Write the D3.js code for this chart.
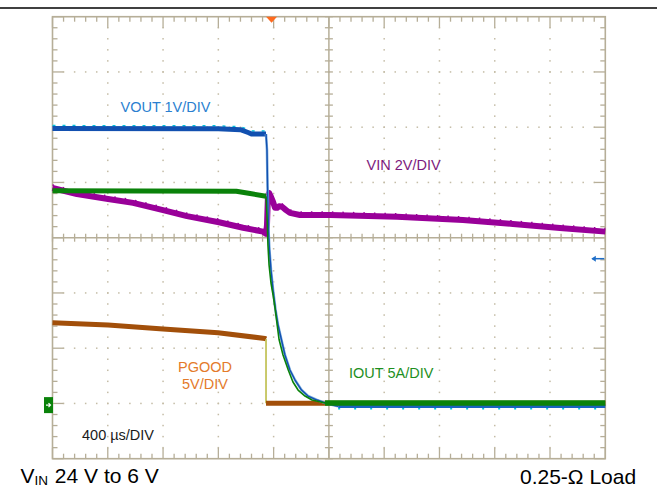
<!DOCTYPE html>
<html><head><meta charset="utf-8">
<script src="https://cdn.jsdelivr.net/npm/d3@7"></script>
<style>
html,body{margin:0;padding:0;background:#fff;}
svg{display:block;font-family:"Liberation Sans",Arial,Helvetica,sans-serif;}
</style>
</head><body>
<svg id="chart" width="657" height="487"></svg>
<script>
// ---------- DATA (time in ms, 400 µs/div; amplitude in screen divisions) ----------
const timeTicks = [0, 0.4, 0.8, 1.2, 1.6, 2.0, 2.4, 2.8, 3.2, 3.6, 4.0];
const divTicks  = [0, 1, 2, 3, 4, 5, 6, 7, 8];

// VIN (2 V/div)
const vinPts = [[0,4.90],[0.177,4.79],[0.402,4.70],[0.583,4.63],[0.800,4.50],[0.973,4.39],
  [1.205,4.28],[1.379,4.18],[1.523,4.11],[1.545,4.07],[1.552,4.23],[1.559,4.76],[1.567,4.81],
  [1.581,4.74],[1.596,4.65],[1.610,4.54],[1.625,4.54],[1.639,4.57],[1.661,4.56],[1.690,4.50],
  [1.718,4.45],[1.791,4.41],[2.008,4.41],[2.493,4.38],[2.970,4.32],[3.332,4.25],[3.694,4.17],[4.0,4.11]];

// VOUT (1 V/div)
const voutHigh = [[0,5.975],[1.20,5.97],[1.36,5.955],[1.42,5.90],[1.44,5.877],[1.545,5.877]];
const voutFall = [[1.545,5.877],[1.552,5.587],[1.556,4.936],[1.563,4.139],[1.570,3.777],[1.581,3.416],
  [1.596,3.054],[1.614,2.692],[1.632,2.420],[1.657,2.149],[1.682,1.877],[1.718,1.605],[1.755,1.424],
  [1.802,1.243],[1.849,1.134],[1.914,1.062],[1.994,0.990],[2.067,0.950]];
const voutLow  = [[2.067,0.950],[4.0,0.950]];

// IOUT (5 A/div)
const ioutHigh = [[0,4.85],[1.33,4.84],[1.43,4.80],[1.545,4.75]];
const ioutFall = [[1.545,4.75],[1.552,4.41],[1.559,3.868],[1.567,3.506],[1.581,3.180],[1.596,2.963],
  [1.610,2.728],[1.639,2.162],[1.668,1.877],[1.706,1.605],[1.740,1.388],[1.777,1.243],[1.827,1.134],
  [1.878,1.062],[1.972,1.008]];
const ioutLow  = [[1.972,1.008],[4.0,1.008]];

// PGOOD (5 V/div)
const pgoodHigh = [[0,2.462],[0.402,2.420],[0.800,2.348],[1.198,2.281],[1.538,2.176],[1.545,2.167]];
const pgoodEdge = [[1.545,2.167],[1.545,1.003]];
const pgoodLow  = [[1.545,1.003],[4.0,1.003]];

// markers
const triggerTime = 1.585;
const groundLevel = 0.97;
const refArrowLevel = 3.62;

// labels
const labels = [
  {text:"VOUT 1V/DIV", x:120.5, y:111.5, color:"#2b7fd0"},
  {text:"VIN 2V/DIV",  x:366.5, y:170,   color:"#7d1a7d"},
  {text:"IOUT 5A/DIV", x:349,   y:377.5, color:"#1e8f1e"},
  {text:"400 µs/DIV",  x:82,    y:440,   color:"#1a1a1a"}
];

// ---------- DRAW ----------
const svg = d3.select("#chart");
const x = d3.scaleLinear().domain([0, 4]).range([52.5, 605.3]);
const y = d3.scaleLinear().domain([0, 8]).range([458.7, 16.7]);
const gridCol = "#b6ae98", dotCol = "#c4bca6";

// top rule
svg.append("line").attr("x1",0).attr("x2",657).attr("y1",8).attr("y2",8)
  .attr("stroke","#000").attr("stroke-width",1.5);

const g = svg.append("g");
// dotted grid
const minorX = [], minorY = [];
for (let i = 0; i < timeTicks.length - 1; i++)
  for (let k = 1; k < 5; k++) minorX.push(timeTicks[i] + (timeTicks[i+1]-timeTicks[i])*k/5);
for (let i = 0; i < divTicks.length - 1; i++)
  for (let k = 1; k < 5; k++) minorY.push(divTicks[i] + (divTicks[i+1]-divTicks[i])*k/5);
const allX = timeTicks.concat(minorX), allY = divTicks.concat(minorY);

const innerX = timeTicks.slice(1, -1).filter(t => t !== 2.0);
const innerY = divTicks.slice(1, -1).filter(d => d !== 4);
const dots = [];
innerX.forEach(t => allY.forEach(d => { if (d > 0 && d < 8) dots.push([t, d]); }));
innerY.forEach(d => allX.forEach(t => { if (t > 0 && t < 4) dots.push([t, d]); }));
g.selectAll("rect.dot").data(dots).join("rect").attr("class","dot")
  .attr("x", d => x(d[0]) - 0.75).attr("y", d => y(d[1]) - 0.75)
  .attr("width", 1.5).attr("height", 1.5).attr("fill", dotCol);

// center cross
g.append("line").attr("x1", x(2)).attr("x2", x(2)).attr("y1", y(8)).attr("y2", y(0))
  .attr("stroke", gridCol).attr("stroke-width", 1.5);
g.append("line").attr("x1", x(0)).attr("x2", x(4)).attr("y1", y(4)).attr("y2", y(4))
  .attr("stroke", gridCol).attr("stroke-width", 1.5);
minorX.concat(timeTicks).forEach(t => {
  g.append("line").attr("x1", x(t)).attr("x2", x(t)).attr("y1", y(4)-4).attr("y2", y(4)+4)
    .attr("stroke", gridCol).attr("stroke-width", 1.3);
});
minorY.concat(divTicks).forEach(d => {
  g.append("line").attr("x1", x(2)-4).attr("x2", x(2)+4).attr("y1", y(d)).attr("y2", y(d))
    .attr("stroke", gridCol).attr("stroke-width", 1.3);
});
// border ticks
allX.forEach(t => {
  const L = timeTicks.includes(t) ? 11 : 5;
  g.append("line").attr("x1", x(t)).attr("x2", x(t)).attr("y1", y(8)).attr("y2", y(8)+L)
    .attr("stroke", gridCol).attr("stroke-width", 1.3);
  g.append("line").attr("x1", x(t)).attr("x2", x(t)).attr("y1", y(0)).attr("y2", y(0)-L)
    .attr("stroke", gridCol).attr("stroke-width", 1.3);
});
allY.forEach(d => {
  const L = divTicks.includes(d) ? 11 : 5;
  g.append("line").attr("x1", x(0)).attr("x2", x(0)+L).attr("y1", y(d)).attr("y2", y(d))
    .attr("stroke", gridCol).attr("stroke-width", 1.3);
  g.append("line").attr("x1", x(4)).attr("x2", x(4)-L).attr("y1", y(d)).attr("y2", y(d))
    .attr("stroke", gridCol).attr("stroke-width", 1.3);
});
// frame
g.append("rect").attr("x", x(0)).attr("y", y(8)).attr("width", x(4)-x(0)).attr("height", y(0)-y(8))
  .attr("fill","none").attr("stroke", gridCol).attr("stroke-width", 1.6);

// traces
const line = d3.line().x(d => x(d[0])).y(d => y(d[1]));
const tr = svg.append("g").attr("fill","none").attr("stroke-linejoin","round");
function path(data, color, w, extra) {
  const p = tr.append("path").datum(data).attr("d", line).attr("stroke", color).attr("stroke-width", w);
  if (extra) extra(p);
  return p;
}
// VIN
path(vinPts, "#990099", 6);
path(vinPts, "#990099", 1.5, p => p.attr("transform","translate(0,-3)").attr("stroke-dasharray","1.5,9"));
// PGOOD
path(pgoodHigh, "#a24f0a", 5);
path(pgoodEdge, "#b9b93c", 1.5);
path(pgoodLow, "#a24f0a", 5);
// VOUT
path(voutHigh, "#00c4dc", 1.5, p => p.attr("transform","translate(0,-3)").attr("stroke-dasharray","3,7"));
path(voutHigh, "#1250b0", 5);
path(voutFall, "#7fb0e0", 2.6);
path(voutFall, "#1250b0", 1.4);
path(voutLow, "#00c4dc", 1.5, p => p.attr("transform","translate(0,2.5)").attr("stroke-dasharray","2,14"));
path(voutLow, "#1a62c0", 3.5);
// IOUT
path(ioutHigh, "#0a820a", 5);
path(ioutFall, "#0a820a", 1.6);
path(ioutLow, "#0a820a", 5.5);

// markers
const tx = x(triggerTime), ty = y(8);
svg.append("path").attr("d", `M${tx-5.5},${ty} L${tx+5.5},${ty} L${tx},${ty+6} Z`).attr("fill","#ff6a1e");
const gy = y(groundLevel);
svg.append("rect").attr("x", x(0)-8.5).attr("y", gy-8).attr("width", 9).attr("height", 16).attr("fill","#0a820a");
svg.append("path").attr("d", `M${x(0)-6.5},${gy} H${x(0)-2} M${x(0)-4},${gy-2} L${x(0)-2},${gy} L${x(0)-4},${gy+2}`)
  .attr("stroke","#fff").attr("stroke-width",1.2).attr("fill","none");
const ay = y(refArrowLevel);
svg.append("path").attr("d", `M${x(4)-13},${ay} H${x(4)-1}`).attr("stroke","#1e6ec8").attr("stroke-width",1.5);
svg.append("path").attr("d", `M${x(4)-14},${ay} L${x(4)-9.5},${ay-3} L${x(4)-9.5},${ay+3} Z`).attr("fill","#1e6ec8");

// labels
svg.selectAll("text.lab").data(labels).join("text").attr("class","lab")
  .attr("x", d => d.x).attr("y", d => d.y).attr("fill", d => d.color)
  .attr("font-size", 14.5).text(d => d.text);
const pg = svg.append("text").attr("fill","#e47a2a").attr("font-size",14.5).attr("text-anchor","middle");
pg.append("tspan").attr("x",205).attr("y",372).text("PGOOD");
pg.append("tspan").attr("x",205).attr("y",389).text("5V/DIV");

// captions
const cap = svg.append("text").attr("x",20.5).attr("y",483).attr("font-size",21).attr("fill","#000");
cap.append("tspan").text("V");
cap.append("tspan").attr("font-size",13.5).attr("dy",1.5).text("IN");
cap.append("tspan").attr("dy",-1.5).attr("dx",1).text(" 24 V to 6 V");
svg.append("text").attr("x",520).attr("y",483.5).attr("font-size",21).attr("fill","#000").text("0.25-Ω Load");
</script>
</body></html>
